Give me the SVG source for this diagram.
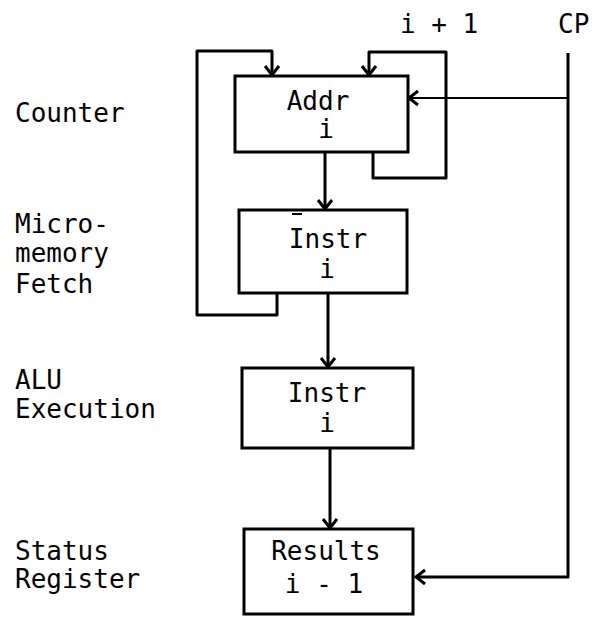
<svg xmlns="http://www.w3.org/2000/svg" width="592" height="617" viewBox="0 0 592 617">
<style>
text{font-family:"DejaVu Sans Mono","Liberation Mono",monospace;font-size:26px;fill:#000}
.c{text-anchor:middle}
.box{fill:#fff;stroke:#000;stroke-width:3}
.w{fill:none;stroke:#000;stroke-width:3;stroke-linejoin:round}
.t{fill:none;stroke:#000;stroke-width:2}
</style>
<defs>
<marker id="a" markerUnits="userSpaceOnUse" markerWidth="20" markerHeight="20" refX="0" refY="0" viewBox="-12 -10 14 20" orient="auto" overflow="visible">
<path d="M-9,-7 L0,0 L-9,7" fill="none" stroke="#000" stroke-width="3"/>
</marker>
</defs>
<rect width="592" height="617" fill="#fff"/>
<g id="labels">
<text x="15" y="122">Counter</text>
<text x="15" y="233">Micro-</text>
<text x="15" y="262">memory</text>
<text x="15" y="293">Fetch</text>
<text x="15" y="389">ALU</text>
<text x="15" y="418">Execution</text>
<text x="15" y="560">Status</text>
<text x="15" y="588">Register</text>
<text x="400" y="33">i + 1</text>
<text x="558" y="33">CP</text>
</g>
<g id="connectors">
<path class="w" d="M277,293 V315 H197 V51 H272 V75" marker-end="url(#a)"/>
<path class="w" d="M373,152 V178 H446 V52 H369 V75" marker-end="url(#a)"/>
<path class="w" d="M568,53 V577 H416" marker-end="url(#a)"/>
<path class="t" d="M568,98 H409" marker-end="url(#a)"/>
<path class="w" d="M325,152 V209" marker-end="url(#a)"/>
<path class="w" d="M328,293 V367" marker-end="url(#a)"/>
<path class="w" d="M330,448 V528" marker-end="url(#a)"/>
</g>
<g id="addr">
<rect class="box" x="235" y="76" width="173" height="76"/>
<text class="c" x="318" y="110">Addr</text>
<text class="c" x="326" y="138">i</text>
</g>
<g id="instr1">
<rect class="box" x="239" y="210" width="168" height="83"/>
<line x1="292" y1="214" x2="302" y2="214" stroke="#000" stroke-width="2"/>
<text class="c" x="328" y="248">Instr</text>
<text class="c" x="327" y="278">i</text>
</g>
<g id="instr2">
<rect class="box" x="242" y="368" width="171" height="80"/>
<text class="c" x="327" y="402">Instr</text>
<text class="c" x="327" y="432">i</text>
</g>
<g id="results">
<rect class="box" x="244" y="529" width="169" height="85"/>
<text class="c" x="326" y="560">Results</text>
<text class="c" x="324" y="593">i - 1</text>
</g>
</svg>
